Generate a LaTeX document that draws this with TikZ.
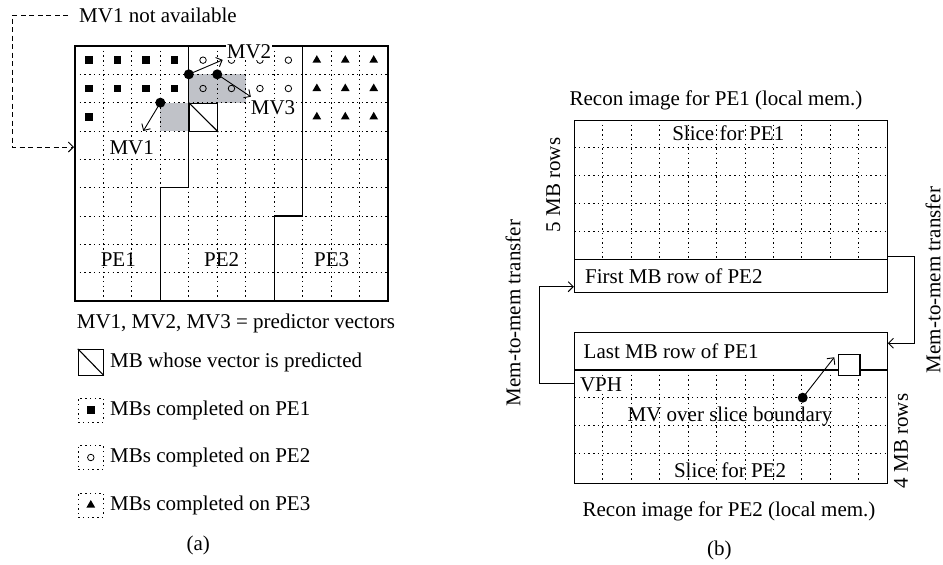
\documentclass[tikz,border=0pt]{standalone}
\usepackage{fontspec}
\setmainfont{Liberation Serif}
\usetikzlibrary{arrows.meta,shapes.geometric}
\definecolor{mvgray}{RGB}{192,194,200}
\begin{document}
\begin{tikzpicture}[x=1pt,y=-1pt, font=\fontsize{21}{25}\selectfont,
  grd/.style={line width=0.85pt, dash pattern=on 1.4pt off 3.3pt},
  frame/.style={line width=1.1pt},
  conn/.style={line width=0.9pt},
  tip/.style={-{Straight Barb[length=5pt,width=10pt]}},
  lbl/.style={inner sep=1pt},
  wlbl/.style={fill=white, inner sep=1pt},
  sqm/.style={rectangle, fill=black, minimum size=7.5pt, inner sep=0pt},
  cim/.style={circle, draw, line width=0.8pt, minimum size=6.5pt, inner sep=0pt},
  trm/.style={regular polygon, regular polygon sides=3, fill=black, minimum size=10pt, inner sep=0pt},
  dotm/.style={circle, fill=black, minimum size=10pt, inner sep=0pt},
]
\useasboundingbox (0,0) rectangle (943,565);

% ---------------- panel (a) ----------------
\begin{scope}[shift={(75,46)}, x=28.45pt, y=-28.333pt]
  \fill[mvgray] (4,1) rectangle (6,2);
  \fill[mvgray] (3,2) rectangle (4,3);
  \foreach \i in {1,...,10} \draw[grd] (\i,0) -- (\i,9);
  \foreach \j in {1,...,8} \draw[grd] (0,\j) -- (11,\j);
  \draw[frame] (0,0) rectangle (11,9);
  \draw[frame] (4,0) -- (4,5) -- (3,5) -- (3,9);
  \draw[frame] (8,0) -- (8,6) -- (7,6) -- (7,9);
  \node[draw, frame, minimum width=28.45pt, minimum height=28.333pt, anchor=north west, inner sep=0pt] (pmb) at (4,2) {};
  \draw[frame] (pmb.north west) -- (pmb.south east);
  \foreach \r in {0,1} \foreach \c in {0,...,3} \node[sqm] (s\r\c) at (\c+0.5,\r+0.5) {};
  \node[sqm] (s20) at (0.5,2.5) {};
  \foreach \r in {0,1} \foreach \c in {4,...,7} \node[cim] (o\r\c) at (\c+0.5,\r+0.5) {};
  \foreach \r in {0,1,2} \foreach \c in {8,9,10} \node[trm] (t\r\c) at (\c+0.5,\r+0.5) {};
  \node[dotm] (d1) at (3,2) {};
  \node[dotm] (d2) at (4,1) {};
  \node[dotm] (d3) at (5,1) {};
  \coordinate (e1) at (2.4,3.0);
  \coordinate (e2) at (5.19,0.49);
  \coordinate (e3) at (6.18,1.79);
  \draw[conn,tip] (d1.center) -- (e1);
  \draw[conn,tip] (d2.center) -- (e2);
  \draw[conn,tip] (d3.center) -- (e3);
\end{scope}
\node[wlbl] (mv2) at (249,51.5) {MV2};
\node[wlbl] (mv3) at (273,108) {MV3};
\node[wlbl] (mv1) at (131.7,147.5) {MV1};
\node[lbl] (pe1) at (118.3,260) {PE1};
\node[lbl] (pe2) at (221.7,260) {PE2};
\node[lbl] (pe3) at (331.7,260) {PE3};

\node[lbl, anchor=west] (na) at (78,15) {MV1 not available};
\coordinate (dk) at (12,147);
\coordinate (ain) at (75,147);
\draw[conn, dash pattern=on 5pt off 3.5pt, tip, shorten >=1pt] ([xshift=-10pt]na.west) -| (dk) -- (ain);

% legend
\node[lbl, anchor=west] (lg0) at (75.7,323) {MV1, MV2, MV3 = predictor vectors};
\node[draw, frame, minimum width=25pt, minimum height=25.7pt, inner sep=0pt] (lb1) at (90.8,362.2) {};
\draw[frame] (lb1.north west) -- (lb1.south east);
\node[lbl, anchor=west] (lt1) at (109,362.2) {MB whose vector is predicted};
\node[draw, grd, minimum width=25pt, minimum height=24pt, inner sep=0pt] (lb2) at (90.8,410) {};
\node[sqm] (lm2) at (lb2) {};
\node[lbl, anchor=west] (lt2) at (109,410) {MBs completed on PE1};
\node[draw, grd, minimum width=25pt, minimum height=24pt, inner sep=0pt] (lb3) at (90.8,457.5) {};
\node[cim] (lm3) at (lb3) {};
\node[lbl, anchor=west] (lt3) at (109,457.5) {MBs completed on PE2};
\node[draw, grd, minimum width=25pt, minimum height=24pt, inner sep=0pt] (lb4) at (90.8,505) {};
\node[trm] (lm4) at (lb4) {};
\node[lbl, anchor=west] (lt4) at (109,505) {MBs completed on PE3};
\node[lbl] (capa) at (198.3,545) {(a)};

% ---------------- panel (b) ----------------
% top box
\foreach \i in {1,...,10} \draw[grd] ({574.3+28.45*\i},120) -- ({574.3+28.45*\i},259.3);
\foreach \y in {147.9,175.7,203.6,231.4} \draw[grd] (574.3,\y) -- (887.3,\y);
\node[draw, frame, minimum width=313pt, minimum height=172.3pt, anchor=north west, inner sep=0pt] (top) at (574.3,120) {};
\draw[frame] (574.3,259.3) -- (887.3,259.3);
\node[lbl] (sl1) at (728.3,133.3) {Slice for PE1};
\node[lbl, anchor=west] (fr) at (584,276) {First MB row of PE2};
\node[lbl] (rc1) at (716,100) {Recon image for PE1 (local mem.)};
\node[lbl, rotate=90] (r5) at (553.3,185) {5 MB rows};

% bottom box
\foreach \i in {1,...,10} \draw[grd] ({574.3+28.45*\i},370) -- ({574.3+28.45*\i},483.3);
\foreach \y in {397.7,425.5,453.5} \draw[grd] (574.3,\y) -- (887.3,\y);
\node[draw, frame, minimum width=313pt, minimum height=151.6pt, anchor=north west, inner sep=0pt] (bot) at (574.3,331.7) {};
\draw[frame] (574.3,370) -- (887.3,370);
\node[lbl, anchor=west] (lr) at (582.5,351.7) {Last MB row of PE1};
\node[wlbl] (vph) at (601,385) {VPH};
\node[lbl] (mvo) at (730,416) {MV over slice boundary};
\node[lbl] (sl2) at (730,470) {Slice for PE2};
\node[lbl] (rc2) at (729,511.7) {Recon image for PE2 (local mem.)};
\node[lbl] (capb) at (719.3,550) {(b)};
\node[lbl, rotate=90] (r4) at (901,441) {4 MB rows};
\node[draw, frame, fill=white, minimum size=21.5pt, inner sep=0pt] (sq) at (849.2,365) {};
\node[dotm] (d4) at (802.7,397.7) {};
\coordinate (e4) at (834.3,357.3);
\draw[conn,tip] (d4.center) -- (e4);

% connectors
\coordinate (lc1) at (574.3,383.3);
\coordinate (lk) at (539.3,286.7);
\coordinate (lc2) at (574.3,286.7);
\draw[conn,tip,shorten >=0.5pt] (lc1) -| (lk) -- (lc2);
\coordinate (rc1s) at (887.3,256);
\coordinate (rk) at (914.3,343.3);
\coordinate (rc2e) at (887.3,343.3);
\draw[conn,tip,shorten >=0.5pt] (rc1s) -| (rk) -- (rc2e);
\node[lbl, rotate=90] (mm1) at (513,313) {Mem-to-mem transfer};
\node[lbl, rotate=90] (mm2) at (933,280) {Mem-to-mem transfer};
\end{tikzpicture}
\end{document}
